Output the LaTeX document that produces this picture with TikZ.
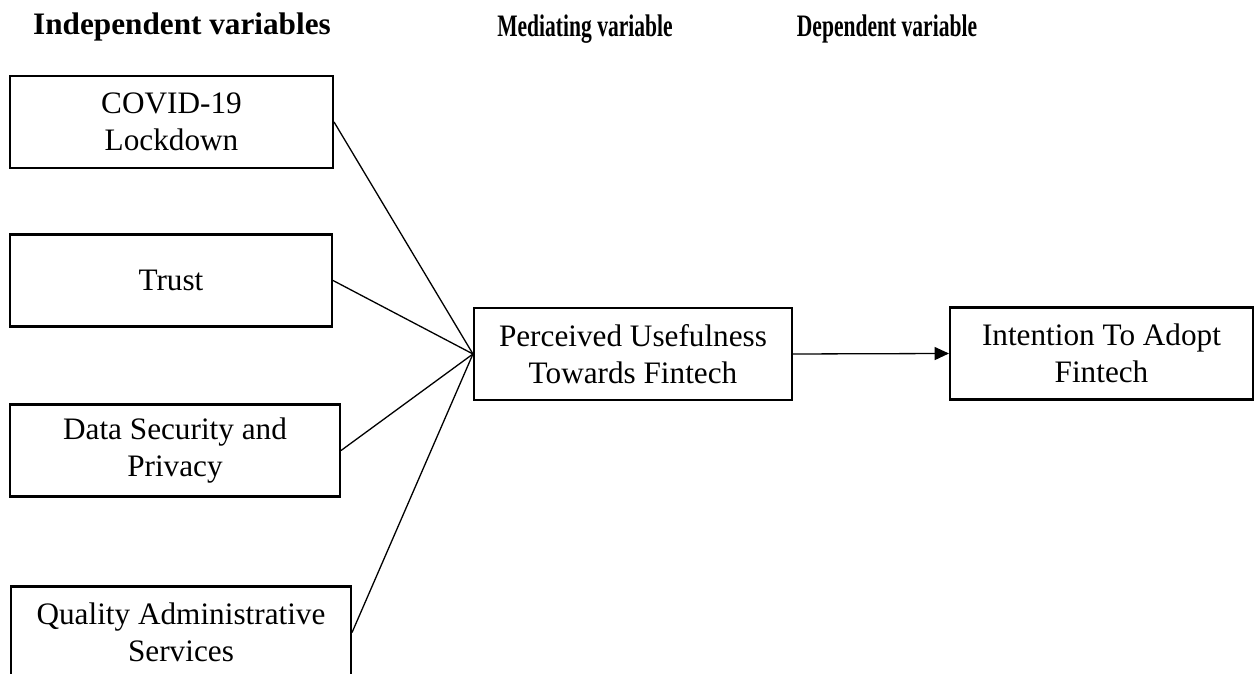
\documentclass[tikz,border=0pt]{standalone}
\usepackage{fontspec}
\setmainfont{Liberation Serif}
\usepackage{graphicx}
\usetikzlibrary{arrows.meta}

\begin{document}
\begin{tikzpicture}[x=0.0135cm,y=-0.0135cm,
  var/.style={draw, line width=0.8pt, align=center, inner sep=0pt,
    minimum height=92*0.0135cm, font=\fontsize{12}{14}\selectfont},
  head/.style={anchor=base, inner sep=0pt, font=\fontsize{12}{14}\selectfont\bfseries},
  link/.style={line width=0.5pt}]
\def\sq{0.69}
\useasboundingbox (0,0) rectangle (1254,674);
\clip (0,0) rectangle (1254,674);
%
\node[head] (hind) at (182,35) {Independent variables};
\node[head] (hmed) at (585,37) {\scalebox{\sq}[1]{Mediating variable}};
\node[head] (hdep) at (887,37) {\scalebox{\sq}[1]{Dependent variable}};
%
\node[var, minimum width=323*0.0135cm] (cov) at (171.5,122) {COVID-19\\Lockdown};
\node[var, minimum width=322*0.0135cm] (tru) at (171,280.5) {Trust};
\node[var, minimum width=330*0.0135cm] (dsp) at (175,450.5) {Data Security and\\Privacy};
\node[var, minimum width=340*0.0135cm] (qas) at (181,632.5) {Quality Administrative\\Services};
\node[var, minimum width=318*0.0135cm] (puf) at (633,354) {Perceived Usefulness\\Towards Fintech};
\node[var, minimum width=303*0.0135cm] (ita) at (1101.5,353.5) {Intention To Adopt\\Fintech};
%
\foreach \src in {cov,tru,dsp,qas}
  \draw[link] (\src.east) -- (puf.west);
\draw[link, -{Triangle[length=5.5pt,width=5pt]}] (puf.east) -- (ita.west);
\end{tikzpicture}
\end{document}
